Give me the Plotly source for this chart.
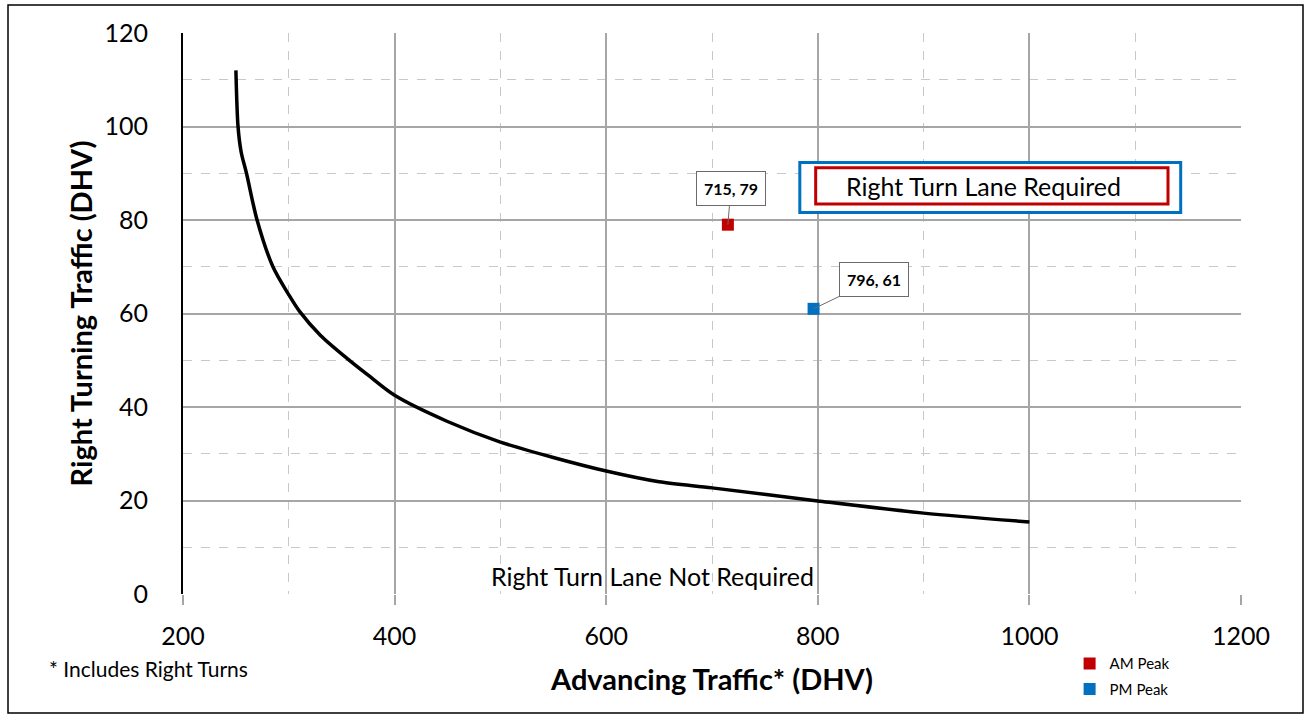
import plotly.graph_objects as go

# Warrant curve (advancing traffic vs right turning traffic, DHV)
curve_x = [250, 252, 255, 260, 270, 285, 300, 310, 330, 355, 375, 400,
           450, 500, 550, 600, 650, 700, 800, 900, 1000]
curve_y = [112, 100, 94.5, 90, 80, 70, 64, 60.5, 55.3, 50.4, 46.8, 42.5,
           36.9, 32.5, 29.2, 26.3, 24, 22.7, 19.9, 17.3, 15.4]

# Observed peak-hour volumes
peak_names = ["AM Peak", "PM Peak"]
peak_x = [715, 796]
peak_y = [79, 61]
peak_colors = ["#C00000", "#0070C0"]

FONT = "Lato"

fig = go.Figure()

fig.add_trace(go.Scatter(
    x=curve_x, y=curve_y,
    mode="lines",
    line=dict(color="black", width=3.5, shape="spline", smoothing=0.8),
    showlegend=False,
    hoverinfo="skip"
))

for name, px_, py_, col in zip(peak_names, peak_x, peak_y, peak_colors):
    fig.add_trace(go.Scatter(
        x=[px_], y=[py_],
        mode="markers",
        name=name,
        legendgroup=name,
        marker=dict(symbol="square", size=12, color=col)
    ))

# Point callouts
label_offsets = [(3, -36), (60, -29)]
for px_, py_, (ax, ay) in zip(peak_x, peak_y, label_offsets):
    fig.add_annotation(
        x=px_, y=py_, text=f"<b>{px_}, {py_}</b>",
        showarrow=True, arrowhead=0, arrowwidth=1, arrowcolor="#6b6b6b",
        ax=ax, ay=ay,
        font=dict(family=FONT, size=16, color="black"),
        bgcolor="white", bordercolor="#6b6b6b", borderwidth=1, borderpad=7
    )

# "Required" zone label with double border
fig.add_shape(type="rect", x0=783, x1=1143, y0=81.6, y1=92.3,
              line=dict(color="#0070C0", width=3), fillcolor="white")
fig.add_shape(type="rect", x0=798, x1=1131, y0=83.4, y1=91.2,
              line=dict(color="#C00000", width=3))
fig.add_annotation(x=957, y=87.3, text="Right Turn Lane Required",
                   showarrow=False, font=dict(family=FONT, size=25, color="black"))

fig.add_annotation(x=644, y=3.9, text="Right Turn Lane Not Required",
                   showarrow=False, font=dict(family=FONT, size=25, color="black"))

fig.add_annotation(xref="paper", yref="paper", x=-0.033, y=-0.133,
                   xanchor="center", yanchor="middle",
                   text="* Includes Right Turns", showarrow=False,
                   font=dict(family=FONT, size=21, color="black"))

# outer frame
fig.add_shape(type="rect", xref="paper", yref="paper",
              x0=-0.1654, x1=1.0586, y0=-0.212, y1=1.05,
              line=dict(color="black", width=1.5), layer="below")

fig.update_xaxes(
    range=[200, 1200], dtick=200, tick0=200,
    showgrid=True, gridcolor="#a6a6a6", gridwidth=1.5,
    ticks="outside", ticklen=10, tickcolor="#a6a6a6", tickwidth=1.5,
    ticklabelstandoff=10,
    minor=dict(dtick=100, showgrid=True, gridcolor="#c8c8c8",
               griddash="dash", gridwidth=1.2),
    showline=False, zeroline=False,
    tickfont=dict(family=FONT, size=25, color="black"),
    title=dict(text="<b>Advancing Traffic* (DHV)</b>", standoff=20,
               font=dict(family=FONT, size=29, color="black"))
)
fig.update_yaxes(
    range=[0, 120], dtick=20,
    showgrid=True, gridcolor="#a6a6a6", gridwidth=1.5,
    minor=dict(dtick=10, showgrid=True, gridcolor="#c8c8c8",
               griddash="dash", gridwidth=1.2),
    showline=True, linecolor="black", linewidth=2, zeroline=False,
    ticks="", ticklabelstandoff=28,
    tickfont=dict(family=FONT, size=25, color="black"),
    title=dict(text="<b>Right Turning Traffic (DHV)</b>", standoff=3,
               font=dict(family=FONT, size=29, color="black"))
)

fig.update_layout(
    width=1310, height=719,
    margin=dict(l=183, r=69, t=33, b=125),
    plot_bgcolor="white", paper_bgcolor="white",
    legend=dict(x=0.838, y=-0.095, xanchor="left", yanchor="top",
                font=dict(family=FONT, size=15, color="black"),
                itemwidth=30, tracegroupgap=3, bgcolor="rgba(0,0,0,0)"),
    showlegend=True
)

fig.write_html("out.html",
               config={"responsive": False, "displayModeBar": False},
               post_script="document.body.style.margin='0';")
